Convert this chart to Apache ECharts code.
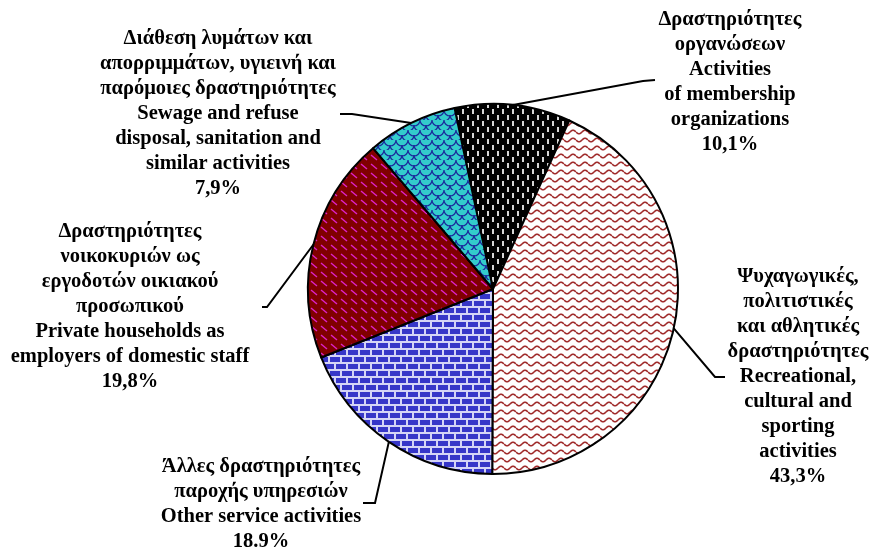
<!DOCTYPE html>
<html>
<head>
<meta charset="utf-8">
<script src="https://cdn.jsdelivr.net/npm/echarts@6/dist/echarts.min.js"></script>
<style>
html, body { margin: 0; padding: 0; background: #fff; }
#main { width: 874px; height: 548px; }
</style>
</head>
<body>
<div id="main"></div>
<script>
// slices, clockwise from the top
var namesGr = [
  'Δραστηριότητες\nοργανώσεων',
  'Ψυχαγωγικές,\nπολιτιστικές\nκαι αθλητικές\nδραστηριότητες',
  'Άλλες δραστηριότητες\nπαροχής υπηρεσιών',
  'Δραστηριότητες\nνοικοκυριών ως\nεργοδοτών οικιακού\nπροσωπικού',
  'Διάθεση λυμάτων και\nαπορριμμάτων, υγιεινή και\nπαρόμοιες δραστηριότητες'
];
var namesEn = [
  'Activities\nof membership\norganizations',
  'Recreational,\ncultural and\nsporting\nactivities',
  'Other service activities',
  'Private households as\nemployers of domestic staff',
  'Sewage and refuse\ndisposal, sanitation and\nsimilar activities'
];
var shares = [10.1, 43.3, 18.9, 19.8, 7.9];
var shareLabels = ['10,1%', '43,3%', '18.9%', '19,8%', '7,9%'];

// where each label block sits and how its leader line ends
var labelSpots = [
  { text: [730, 82], bend: [643, 81], end: [655, 80] },
  { text: [798, 377], bend: [715, 377], end: [725, 377] },
  { text: [261, 504], bend: [375, 503], end: [363, 503] },
  { text: [130, 307], bend: [267, 307], end: [262, 307] },
  { text: [218, 114], bend: [352, 114], end: [340, 114] }
];

function tile(w, h, draw) {
  var c = document.createElement('canvas');
  c.width = w; c.height = h;
  draw(c.getContext('2d'), w, h);
  return { image: c, repeat: 'repeat' };
}

// fill patterns
var patDashes = tile(10, 12, function (g, w, h) {
  g.fillStyle = '#000'; g.fillRect(0, 0, w, h);
  g.fillStyle = '#d6d6d6';
  g.fillRect(2, 1, 2, 5);
  g.fillRect(7, 7, 2, 5);
});
var patWaves = tile(12, 8, function (g, w, h) {
  g.fillStyle = '#fff'; g.fillRect(0, 0, w, h);
  g.strokeStyle = '#a02c2c'; g.lineWidth = 1.6;
  g.beginPath();
  for (var x = 0; x <= w; x += 0.5) {
    var y = 4 + 1.8 * Math.sin(x / w * Math.PI * 2);
    if (x === 0) g.moveTo(x, y); else g.lineTo(x, y);
  }
  g.stroke();
});
var patBricks = tile(12, 14, function (g, w, h) {
  g.fillStyle = '#d4d4f6'; g.fillRect(0, 0, w, h);
  g.fillStyle = '#3636c8';
  g.fillRect(0, 0, 10, 5);
  g.fillRect(6, 7, 6, 5);
  g.fillRect(0, 7, 4, 5);
});
var patDiag = tile(10, 9, function (g, w, h) {
  g.fillStyle = '#800000'; g.fillRect(0, 0, w, h);
  g.strokeStyle = '#dc22c8'; g.lineWidth = 1.4;
  g.beginPath(); g.moveTo(1, 2); g.lineTo(7, 7); g.stroke();
});
var patScales = tile(12, 10, function (g, w, h) {
  g.fillStyle = '#33cccc'; g.fillRect(0, 0, w, h);
  g.strokeStyle = '#1c2a9c'; g.lineWidth = 1.2;
  g.beginPath(); g.arc(6, 0, 6, 0, Math.PI); g.stroke();
  g.beginPath(); g.arc(0, 5, 6, 0, Math.PI / 2); g.stroke();
  g.beginPath(); g.arc(12, 5, 6, Math.PI / 2, Math.PI); g.stroke();
});
var fills = [patDashes, patWaves, patBricks, patDiag, patScales];

var myChart = echarts.init(document.getElementById('main'));

var pieData = shares.map(function (v, i) {
  return {
    name: namesGr[i] + '\n' + namesEn[i],
    value: v,
    itemStyle: { color: fills[i] }
  };
});

var option = {
  backgroundColor: '#fff',
  animation: false,
  series: [{
    type: 'pie',
    center: [493, 289],
    radius: 185,
    startAngle: 102,
    clockwise: true,
    avoidLabelOverlap: false,
    data: pieData,
    itemStyle: { borderColor: '#000', borderWidth: 2 },
    label: {
      show: true,
      position: 'outside',
      color: '#000',
      fontFamily: '"Liberation Serif", "Times New Roman", serif',
      fontWeight: 'bold',
      fontSize: 20.5,
      lineHeight: 25,
      align: 'center',
      formatter: function (p) {
        return p.name + '\n' + shareLabels[p.dataIndex];
      }
    },
    labelLine: {
      show: true,
      length: 20,
      length2: 10,
      lineStyle: { color: '#000', width: 2 }
    },
    labelLayout: function (params) {
      var s = labelSpots[params.dataIndex];
      var pts = params.labelLinePoints;
      var edge = pts && pts[0] ? pts[0] : s.bend;
      return {
        x: s.text[0],
        y: s.text[1],
        align: 'center',
        verticalAlign: 'middle',
        labelLinePoints: [edge, s.bend, s.end]
      };
    },
    emphasis: { disabled: true }
  }]
};
myChart.setOption(option);
</script>
</body>
</html>
